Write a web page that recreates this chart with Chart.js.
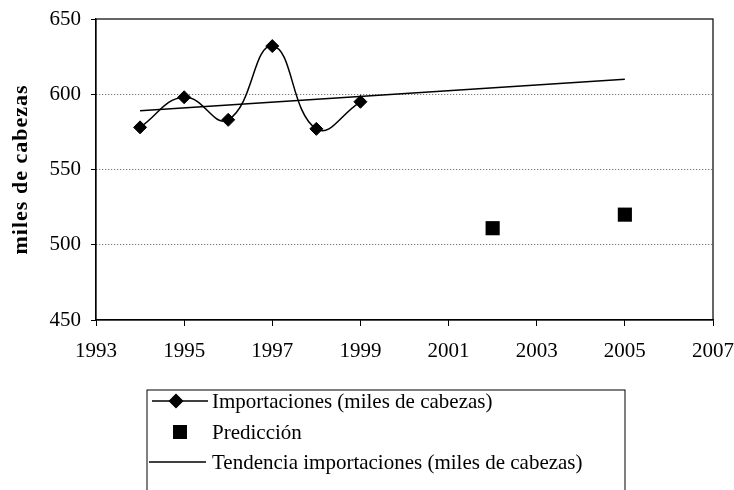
<!DOCTYPE html>
<html>
<head>
<meta charset="utf-8">
<script src="https://cdn.jsdelivr.net/npm/chart.js@4/dist/chart.umd.min.js"></script>
<style>
html,body{margin:0;padding:0;background:#fff;}
#wrap{position:relative;width:734px;height:490px;}
</style>
</head>
<body>
<div id="wrap"><canvas id="c" width="734" height="490"></canvas></div>
<script>
// ---- data ----
const importYears = [1994, 1995, 1996, 1997, 1998, 1999];
const importValues = [578, 598, 583, 632, 577, 595];
const predYears = [2002, 2005];
const predValues = [511, 520];
const trendYears = [1994, 2005];
const trendValues = [589, 610];
const xTicks = [1993, 1995, 1997, 1999, 2001, 2003, 2005, 2007];
const yTicks = [450, 500, 550, 600, 650];
const seriesNames = ['Importaciones (miles de cabezas)', 'Predicción', 'Tendencia importaciones (miles de cabezas)'];
const yTitle = 'miles de cabezas';

const SERIF = '"Liberation Serif", "Times New Roman", serif';
const toXY = (xs, ys) => xs.map((x, i) => ({x: x, y: ys[i]}));

const framePlugin = {
  id: 'frame',
  afterUpdate(chart) {
    const ys = chart.scales.y;
    if (ys && !ys._lsPatched) {
      const orig = ys.drawTitle.bind(ys);
      ys.drawTitle = function () {
        const c = this.ctx;
        const prev = c.letterSpacing;
        c.letterSpacing = '1px';
        orig();
        c.letterSpacing = prev || '0px';
      };
      ys._lsPatched = true;
    }
  },
  beforeDatasetsDraw(chart) {
    const a = chart.chartArea, ctx = chart.ctx;
    ctx.save();
    ctx.strokeStyle = '#000';
    ctx.lineWidth = 1.2;
    ctx.setLineDash([]);
    ctx.strokeRect(a.left, a.top, a.right - a.left, a.bottom - a.top);
    ctx.restore();
  }
};

const legendPlugin = {
  id: 'customLegend',
  afterDraw(chart) {
    const ctx = chart.ctx;
    const box = {l: 147, t: 390, r: 625, b: 520};
    ctx.save();
    ctx.strokeStyle = '#000';
    ctx.lineWidth = 1;
    ctx.strokeRect(box.l, box.t, box.r - box.l, box.b - box.t);
    const rows = [401, 432, 462];
    const textX = 212;
    ctx.font = '21px ' + SERIF;
    ctx.fillStyle = '#000';
    ctx.textBaseline = 'middle';
    ctx.textAlign = 'left';
    ctx.beginPath();
    ctx.lineWidth = 1.5;
    ctx.moveTo(152, rows[0]); ctx.lineTo(208, rows[0]); ctx.stroke();
    Chart.helpers.drawPoint(ctx, {pointStyle: 'rectRot', radius: 6.5, borderWidth: 1}, 176, rows[0]);
    ctx.fill();
    ctx.fillRect(173, rows[1] - 7, 14, 14);
    ctx.beginPath();
    ctx.moveTo(149, rows[2]); ctx.lineTo(206, rows[2]); ctx.stroke();
    seriesNames.forEach((n, i) => ctx.fillText(n, textX, rows[i] + 1));
    ctx.restore();
  }
};

new Chart(document.getElementById('c'), {
  type: 'scatter',
  data: {
    datasets: [
      {
        label: seriesNames[0],
        data: toXY(importYears, importValues),
        showLine: true,
        tension: 0.45,
        borderColor: '#000',
        borderWidth: 1.5,
        backgroundColor: '#000',
        pointStyle: 'rectRot',
        pointRadius: 6.5,
        pointBorderWidth: 1,
        order: 1
      },
      {
        label: seriesNames[1],
        data: toXY(predYears, predValues),
        showLine: false,
        borderColor: '#000',
        backgroundColor: '#000',
        pointStyle: 'rect',
        pointRadius: 10,
        pointBorderWidth: 0,
        order: 2
      },
      {
        label: seriesNames[2],
        data: toXY(trendYears, trendValues),
        showLine: true,
        tension: 0,
        borderColor: '#000',
        borderWidth: 1.5,
        pointRadius: 0,
        order: 3
      }
    ]
  },
  options: {
    responsive: false,
    animation: false,
    layout: {padding: {left: 0, top: 19, right: 21, bottom: 130}},
    plugins: {legend: {display: false}, tooltip: {enabled: false}},
    scales: {
      x: {
        type: 'linear',
        min: 1993, max: 2007,
        afterBuildTicks: s => { s.ticks = xTicks.map(v => ({value: v})); },
        afterFit: s => { s.height = 40; s.paddingLeft = 0; s.paddingRight = 0; },
        ticks: {
          color: '#000',
          font: {family: SERIF, size: 21},
          padding: 13,
          maxRotation: 0,
          callback: v => String(v)
        },
        grid: {drawOnChartArea: false, drawTicks: true, tickLength: 6, tickColor: '#000', tickWidth: 1},
        border: {display: true, color: '#000', width: 1.2}
      },
      y: {
        min: 450, max: 650,
        afterBuildTicks: s => { s.ticks = yTicks.map(v => ({value: v})); },
        afterFit: s => { s.width = 96; s.paddingTop = 0; s.paddingBottom = 0; },
        ticks: {
          color: '#000',
          font: {family: SERIF, size: 21},
          padding: 10,
          callback: v => String(v)
        },
        title: {
          display: true,
          text: yTitle,
          color: '#000',
          font: {family: SERIF, size: 22, weight: 'bold'},
          padding: {top: 8, bottom: 0}
        },
        grid: {
          drawTicks: true,
          tickLength: 5,
          tickColor: '#000',
          tickBorderDash: [],
          color: ctx => (ctx.tick && (ctx.tick.value === 450 || ctx.tick.value === 650)) ? 'rgba(0,0,0,0)' : '#555',
          lineWidth: 1
        },
        border: {display: true, color: '#000', width: 1.2, dash: [1, 2]}
      }
    }
  },
  plugins: [framePlugin, legendPlugin]
});
</script>
</body>
</html>
